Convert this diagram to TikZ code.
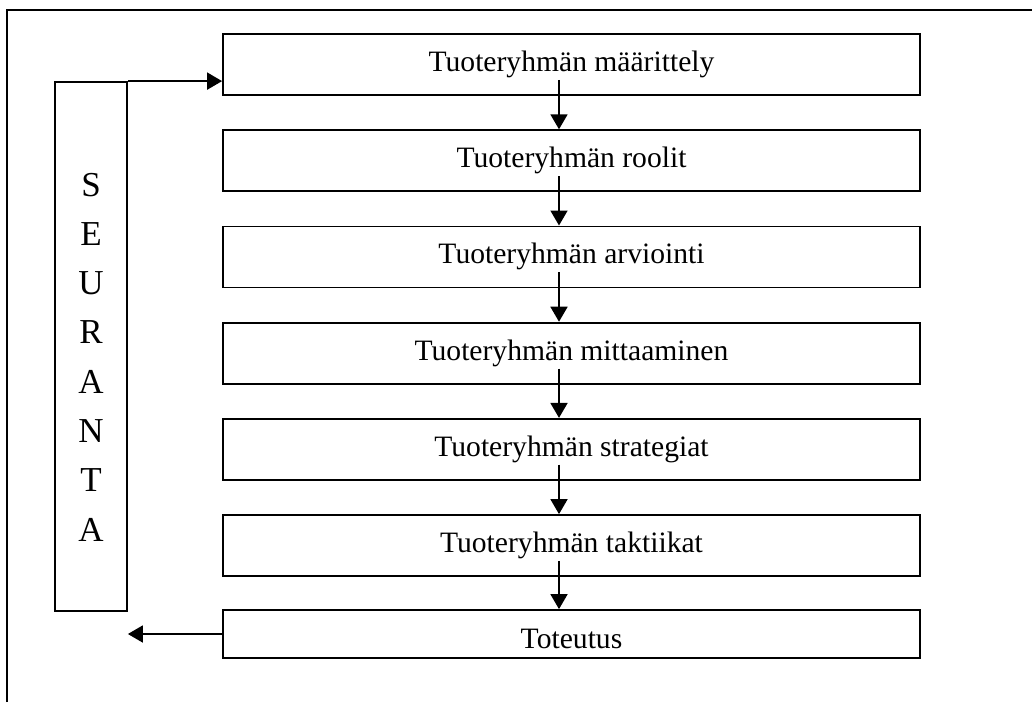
\documentclass[tikz,border=0pt]{standalone}
\usepackage{fontspec}
\setmainfont{Liberation Serif}
\usetikzlibrary{arrows.meta}

\begin{document}
\begin{tikzpicture}[x=0.5pt, y=-0.5pt, line width=0.9pt,
    stagebox/.style={draw, minimum width=348.5pt, minimum height=30.5pt, inner sep=0pt,
        text height=10pt, text depth=3pt, font=\fontsize{14.8}{17}\selectfont},
    arr/.style={-{Triangle[length=7.5pt,width=8.5pt]}}]
\useasboundingbox (0,0) rectangle (1032,702);
\draw (7,702) -- (7,10) -- (1032,10);
\foreach \i/\name in {1/määrittely, 2/roolit, 3/arviointi, 4/mittaaminen, 5/strategiat, 6/taktiikat} {%
    \node [stagebox] (b\i) at (571.5, {64.5+96.2*(\i-1)}) {Tuoteryhmän \name};
}
\node [stagebox, minimum height=24pt, text height=16pt, text depth=2pt] (b7) at (571.5,634) {Toteutus};
\foreach \i [evaluate=\i as \j using int(\i+1)] in {1,...,6} {%
    \draw [arr] ([xshift=-6.25pt, yshift=8pt]b\i.south) -- ([xshift=-6.25pt]b\j.north);
}
\node [draw, minimum width=36pt, minimum height=264.5pt, inner sep=0pt] (seuranta) at (91,346.5) {};
\node [align=center, font=\fontsize{17.5}{24.65}\selectfont] (seurantaletters) at (91,357) {S\\E\\U\\R\\A\\N\\T\\A};
\draw [arr] (seuranta.north east) -- (seuranta.north east -| b1.west);
\draw [arr] (b7.west) -- (b7.west -| seuranta.east);
\end{tikzpicture}
\end{document}
